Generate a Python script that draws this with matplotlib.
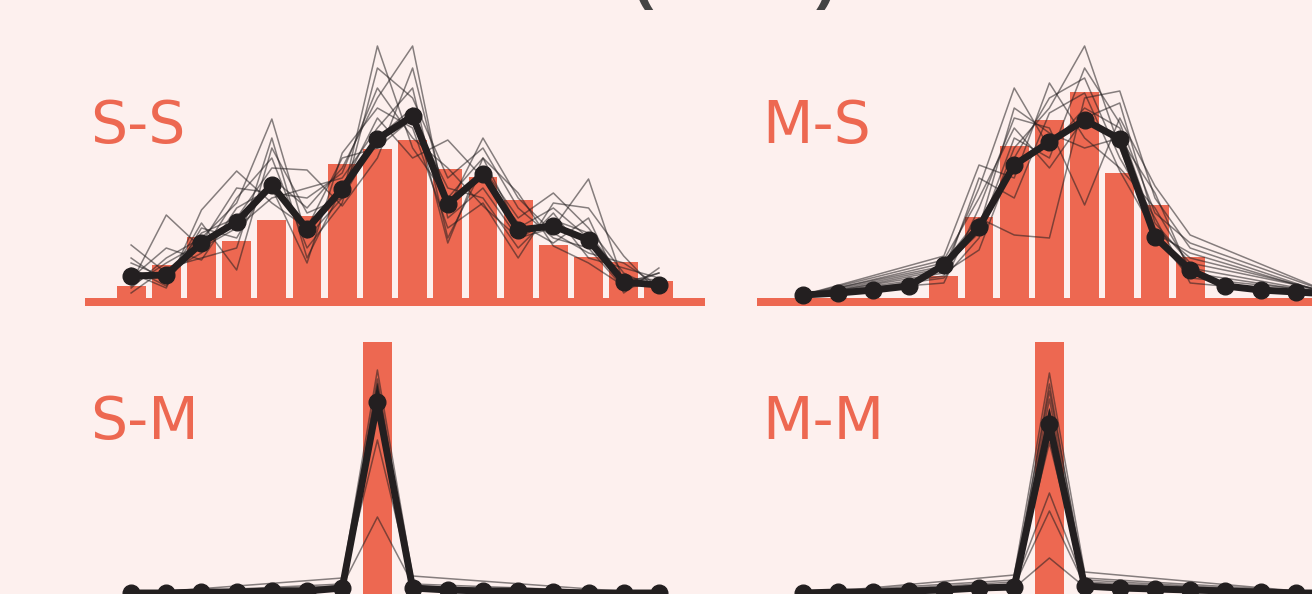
import numpy as np
import matplotlib
matplotlib.use("Agg")
import matplotlib.pyplot as plt

# bins 0..15, values are heights above the baseline
bins = np.arange(16)

ss_bars = [12, 33, 61, 57, 78, 82, 134, 149, 158, 129, 121, 98, 53, 41, 36, 17]
ss_mean = [22, 23, 55, 76, 113, 69, 109, 159, 182, 94, 124, 68, 72, 58, 16, 13]
ss_traces = [
    [10, 40, 60, 95, 179, 60, 100, 252, 150, 100, 140, 70, 90, 60, 20, 10],
    [30, 12, 70, 60, 120, 90, 130, 200, 252, 80, 110, 60, 70, 119, 15, 25],
    [53, 25, 45, 100, 140, 50, 95, 230, 200, 120, 150, 90, 60, 50, 10, 15],
    [15, 83, 50, 70, 100, 110, 120, 170, 210, 60, 130, 80, 105, 70, 25, 8],
    [25, 10, 88, 127, 95, 70, 140, 150, 180, 110, 100, 50, 85, 40, 30, 20],
    [5, 30, 40, 50, 160, 40, 110, 180, 140, 158, 120, 75, 55, 80, 5, 30],
    [35, 20, 65, 80, 130, 128, 92, 140, 230, 90, 160, 100, 65, 45, 35, 12],
    [20, 50, 38, 90, 110, 35, 145, 190, 170, 70, 95, 40, 95, 90, 42, 5],
    [40, 15, 75, 28, 150, 85, 100, 160, 190, 55, 140, 105, 52, 35, 12, 25],
    [12, 35, 55, 110, 105, 100, 125, 210, 160, 130, 92, 60, 78, 65, 20, 18],
]

ms_bars = [0, 0, 0, 0, 22, 81, 152, 178, 206, 125, 93, 41, 0, 0, 0, 0]
ms_mean = [3, 5, 8, 12, 33, 71, 133, 156, 178, 159, 61, 28, 12, 8, 6, 4]
ms_traces = [
    [2, None, None, None, 30, 110, 210, 150, 190, 170, 70, 40, None, None, None, 5],
    [3, None, None, None, 42, 133, 120, 215, 160, 130, 90, 30, None, None, None, 4],
    [1, None, None, None, 20, 60, 150, 190, 252, 150, 62, 20, None, None, None, 6],
    [2, None, None, None, 35, 80, 63, 60, 200, 207, 100, 50, None, None, None, 3],
    [4, None, None, None, 15, 90, 180, 170, 93, 180, 112, 63, None, None, None, 5],
    [2, None, None, None, 25, 48, 140, 200, 220, 140, 80, 15, None, None, None, 2],
    [3, None, None, None, 38, 100, 170, 130, 180, 195, 75, 35, None, None, None, 6],
    [1, None, None, None, 28, 70, 190, 165, 150, 160, 105, 25, None, None, None, 4],
    [2, None, None, None, 22, 120, 100, 185, 205, 127, 65, 45, None, None, None, 3],
    [3, None, None, None, 32, 65, 160, 140, 230, 175, 85, 55, None, None, None, 5],
]

sm_bars = [0, 0, 0, 0, 0, 0, 0, 252, 0, 0, 0, 0, 0, 0, 0, 0]
sm_mean = [1, 1, 2, 2, 3, 3, 6, 192, 6, 4, 3, 3, 2, 1, 1, 1]
sm_traces = [
    [0, None, None, None, None, None, 16, 224, 18, None, None, None, None, None, None, 0],
    [0, None, None, None, None, None, 10, 154, 8, None, None, None, None, None, None, 0],
    [1, None, None, None, None, None, 8, 77, 10, None, None, None, None, None, None, 1],
    [1, 1, 2, 2, 3, 3, 5, 210, 5, 4, 3, 3, 2, 1, 1, 1],
    [0, 1, 1, 2, 2, 3, 4, 200, 6, 4, 3, 2, 2, 1, 1, 0],
    [1, 1, 2, 3, 3, 4, 7, 215, 7, 5, 4, 3, 2, 2, 1, 1],
    [0, None, None, None, None, None, 5, 195, 4, None, None, None, None, None, None, 0],
]

mm_bars = [0, 0, 0, 0, 0, 0, 0, 252, 0, 0, 0, 0, 0, 0, 0, 0]
mm_mean = [1, 2, 2, 3, 4, 6, 7, 170, 8, 6, 5, 4, 3, 2, 1, 1]
mm_traces = [
    [0, None, None, None, None, None, 19, 221, 22, None, None, None, None, None, None, 0],
    [1, None, None, None, None, None, 14, 203, 16, None, None, None, None, None, None, 1],
    [0, None, None, None, None, None, 12, 184, 14, None, None, None, None, None, None, 0],
    [0, None, None, None, None, None, 10, 151, 12, None, None, None, None, None, None, 0],
    [1, None, None, None, None, None, 9, 101, 10, None, None, None, None, None, None, 1],
    [0, None, None, None, None, None, 8, 83, 9, None, None, None, None, None, None, 0],
    [0, None, None, None, None, None, 6, 36, 7, None, None, None, None, None, None, 0],
    [1, 2, 2, 3, 4, 5, 7, 195, 8, 6, 5, 4, 3, 2, 1, 1],
    [1, 1, 2, 3, 4, 6, 6, 180, 7, 5, 4, 4, 3, 2, 1, 0],
    [0, 2, 3, 3, 4, 5, 8, 210, 9, 6, 5, 3, 3, 2, 2, 1],
]

panel_names = ["S-S", "M-S", "S-M", "M-M"]
title = "(/ total)"

RED = "#ED6851"
BG = "#FDF0EE"
INK = "#231F20"

W, H = 1312, 594
fig = plt.figure(figsize=(W / 100, H / 100), dpi=100, facecolor=BG)


def px_axes(left, top, width, height):
    return fig.add_axes([left / W, 1 - (top + height) / H, width / W, height / H])


panels = [
    (ss_bars, ss_mean, ss_traces, 85, 38),
    (ms_bars, ms_mean, ms_traces, 757, 38),
    (sm_bars, sm_mean, sm_traces, 85, 334),
    (mm_bars, mm_mean, mm_traces, 757, 334),
]

for name, (bars, mean, traces, left, top) in zip(panel_names, panels):
    ax = px_axes(left, top, 620, 268)
    ax.set_xlim(-1.31, 16.31)
    ax.set_ylim(-8, 260)
    ax.axis("off")
    ax.patch.set_alpha(0)
    ax.axhspan(-8, 0, color=RED, lw=0, zorder=0)
    ax.bar(bins, bars, width=0.82, color=RED, lw=0, zorder=1)
    for tr in traces:
        x = [i for i, v in zip(bins, tr) if v is not None]
        y = [v for v in tr if v is not None]
        ax.plot(x, y, color=INK, alpha=0.55, lw=1.1, zorder=2, clip_on=False)
    ax.plot(bins, mean, color=INK, lw=5, marker="o", ms=12, zorder=3,
            clip_on=False, solid_joinstyle="miter")
    fig.text((left + 5) / W, 1 - (top + 105) / H, name, color=RED,
             fontsize=42, va="baseline", ha="left", family="DejaVu Sans")

# page title sits mostly above the visible area
fig.text(633 / W, 1 + 3 / H, title, color="#444444", fontsize=44,
         fontweight="bold", va="baseline", ha="left", family="Liberation Sans")

fig.savefig("out.png", dpi=100, facecolor=BG)
